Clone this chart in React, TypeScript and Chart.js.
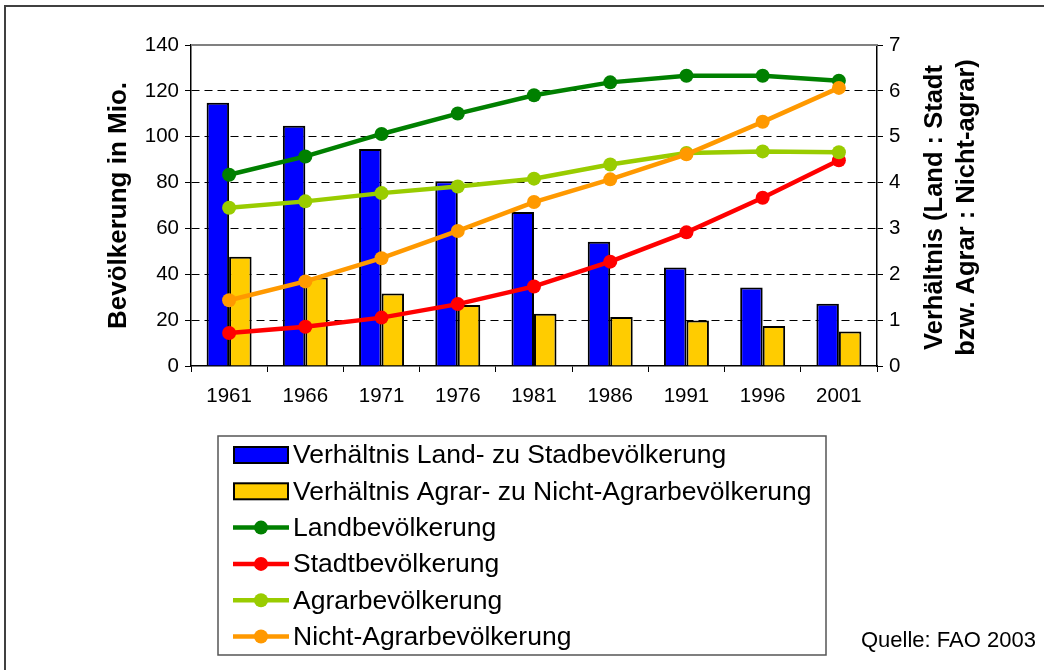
import { useEffect, useRef } from 'react';
import { Chart, registerables } from 'chart.js';

Chart.register(...registerables);

const years = ['1961', '1966', '1971', '1976', '1981', '1986', '1991', '1996', '2001'];
const ratioLandStadt = [5.74, 5.24, 4.73, 4.03, 3.36, 2.71, 2.15, 1.71, 1.36];
const ratioAgrarNicht = [2.38, 1.93, 1.58, 1.33, 1.14, 1.07, 0.99, 0.87, 0.75];
const landPop = [83.4, 91.4, 101.2, 110.1, 118.1, 123.7, 126.6, 126.6, 124.4];
const stadtPop = [14.4, 17.1, 21.1, 27.0, 34.7, 45.5, 58.3, 73.4, 89.7];
const agrarPop = [69.0, 71.8, 75.4, 78.3, 81.7, 87.9, 92.9, 93.6, 93.2];
const nichtAgrarPop = [28.7, 36.9, 47.0, 58.9, 71.5, 81.4, 92.3, 106.5, 121.3];

const leftTitle = 'Bevölkerung in Mio.';
const rightTitle = ['Verhältnis (Land : Stadt', 'bzw. Agrar : Nicht-agrar)'];
const sourceText = 'Quelle: FAO 2003';

const FONT = "'Liberation Sans', Arial, Helvetica, sans-serif";

const C_BLUE = '#0000FF';
const C_YELLOW = '#FFCC00';
const C_GREEN = '#008000';
const C_RED = '#FF0000';
const C_LGREEN = '#99CC00';
const C_ORANGE = '#FF9900';

type LegendItem = { label: string; kind: 'bar' | 'line'; color: string };
const legendItems: LegendItem[] = [
  { label: 'Verhältnis Land- zu Stadbevölkerung', kind: 'bar', color: C_BLUE },
  { label: 'Verhältnis Agrar- zu Nicht-Agrarbevölkerung', kind: 'bar', color: C_YELLOW },
  { label: 'Landbevölkerung', kind: 'line', color: C_GREEN },
  { label: 'Stadtbevölkerung', kind: 'line', color: C_RED },
  { label: 'Agrarbevölkerung', kind: 'line', color: C_LGREEN },
  { label: 'Nicht-Agrarbevölkerung', kind: 'line', color: C_ORANGE },
];

const decorPlugin = {
  id: 'decor',
  afterDraw(chart: any) {
    const ctx: CanvasRenderingContext2D = chart.ctx;
    const area = chart.chartArea;
    ctx.save();
    // outer frame
    ctx.strokeStyle = '#404040';
    ctx.lineWidth = 2;
    ctx.beginPath();
    ctx.moveTo(5, 670);
    ctx.lineTo(5, 6);
    ctx.lineTo(1044, 6);
    ctx.stroke();

    // top plot border (gray)
    ctx.strokeStyle = '#808080';
    ctx.lineWidth = 2;
    ctx.beginPath();
    ctx.moveTo(area.left, area.top);
    ctx.lineTo(area.right, area.top);
    ctx.stroke();

    // right axis title (reading bottom to top)
    const cy = (area.top + area.bottom) / 2 + 2;
    ctx.fillStyle = '#000';
    ctx.font = `bold 25.5px ${FONT}`;
    ctx.textAlign = 'center';
    ctx.textBaseline = 'middle';
    const xs = [935, 967];
    rightTitle.forEach((t, i) => {
      ctx.save();
      ctx.translate(xs[i], cy);
      ctx.rotate(-Math.PI / 2);
      ctx.fillText(t, 0, 0);
      ctx.restore();
    });

    // legend box
    const bx = 218, by = 436, bw = 608, bh = 219;
    ctx.strokeStyle = '#555';
    ctx.lineWidth = 1.5;
    ctx.strokeRect(bx, by, bw, bh);
    ctx.font = `26.5px ${FONT}`;
    ctx.textAlign = 'left';
    ctx.textBaseline = 'middle';
    legendItems.forEach((it, i) => {
      const yc = 455 + i * 36.3;
      if (it.kind === 'bar') {
        ctx.fillStyle = it.color;
        ctx.fillRect(234, yc - 8, 54, 16);
        ctx.strokeStyle = '#000';
        ctx.lineWidth = 2;
        ctx.strokeRect(234, yc - 8, 54, 16);
      } else {
        ctx.strokeStyle = it.color;
        ctx.lineWidth = 4.5;
        ctx.beginPath();
        ctx.moveTo(233, yc);
        ctx.lineTo(289, yc);
        ctx.stroke();
        ctx.fillStyle = it.color;
        ctx.beginPath();
        ctx.arc(261, yc, 7, 0, Math.PI * 2);
        ctx.fill();
      }
      ctx.fillStyle = '#000';
      ctx.fillText(it.label, 293, yc + 1);
    });

    // source
    ctx.font = `22px ${FONT}`;
    ctx.fillStyle = '#000';
    ctx.textAlign = 'left';
    ctx.fillText(sourceText, 861, 641);
    ctx.restore();
  },
};

export default function App() {
  const ref = useRef<HTMLCanvasElement | null>(null);
  useEffect(() => {
    if (!ref.current) return;
    const lineDs = (label: string, data: number[], color: string, order: number) => ({
      type: 'line' as const,
      label,
      data,
      yAxisID: 'y',
      borderColor: color,
      backgroundColor: color,
      borderWidth: 4.5,
      pointRadius: 7,
      pointBackgroundColor: color,
      pointBorderWidth: 0,
      pointBorderColor: color,
      tension: 0,
      order,
    });
    const chart = new Chart(ref.current, {
      type: 'bar',
      data: {
        labels: years,
        datasets: [
          {
            type: 'bar',
            label: legendItems[0].label,
            data: ratioLandStadt,
            yAxisID: 'y1',
            backgroundColor: C_BLUE,
            borderColor: '#000',
            borderWidth: 2,
            categoryPercentage: 0.59,
            barPercentage: 1,
            order: 9,
          },
          {
            type: 'bar',
            label: legendItems[1].label,
            data: ratioAgrarNicht,
            yAxisID: 'y1',
            backgroundColor: C_YELLOW,
            borderColor: '#000',
            borderWidth: 2,
            categoryPercentage: 0.59,
            barPercentage: 1,
            order: 10,
          },
          lineDs(legendItems[2].label, landPop, C_GREEN, 4),
          lineDs(legendItems[3].label, stadtPop, C_RED, 3),
          lineDs(legendItems[4].label, agrarPop, C_LGREEN, 2),
          lineDs(legendItems[5].label, nichtAgrarPop, C_ORANGE, 1),
        ] as any,
      },
      options: {
        responsive: false,
        animation: false,
        layout: { padding: { left: 99, right: 127, top: 45, bottom: 264 } },
        plugins: {
          legend: { display: false },
          tooltip: { enabled: false },
        },
        scales: {
          x: {
            type: 'category',
            offset: true,
            grid: {
              offset: true,
              drawOnChartArea: false,
              drawTicks: true,
              tickLength: 6,
              color: '#000',
              tickColor: '#000',
              lineWidth: 1,
            },
            border: { color: '#000', width: 1.5 },
            ticks: { color: '#000', font: { family: FONT, size: 20.5 }, padding: 12, maxRotation: 0 },
            afterFit: (s: any) => { s.height = 40; },
          },
          y: {
            type: 'linear',
            position: 'left',
            min: 0,
            max: 140,
            ticks: { stepSize: 20, color: '#000', font: { family: FONT, size: 20.5 }, padding: 6 },
            grid: {
              color: (c: any) => (c.tick && (c.tick.value === 0 || c.tick.value === 140) ? 'rgba(0,0,0,0)' : '#000'),
              tickColor: '#000',
              tickLength: 6,
              lineWidth: 1,
            },
            border: { color: '#000', width: 1.5, dash: [8, 5] },
            title: {
              display: true,
              text: leftTitle,
              color: '#000',
              font: { family: FONT, size: 26, weight: 'bold' },
              padding: { top: 4, bottom: 4 },
            },
            afterFit: (s: any) => { s.width = 92; },
          },
          y1: {
            type: 'linear',
            position: 'right',
            min: 0,
            max: 7,
            ticks: { stepSize: 1, color: '#000', font: { family: FONT, size: 20.5 }, padding: 6 },
            grid: { drawOnChartArea: false, tickColor: '#000', tickLength: 6, color: '#000' },
            border: { color: '#000', width: 1.5 },
            afterFit: (s: any) => { s.width = 40; },
          },
        },
      },
      plugins: [decorPlugin],
    } as any);
    return () => chart.destroy();
  }, []);
  return (
    <div style={{ position: 'fixed', left: 0, top: 0, width: 1044, height: 670, background: '#fff' }}>
      <canvas ref={ref} width={1044} height={670} style={{ display: 'block', width: 1044, height: 670 }} />
    </div>
  );
}
